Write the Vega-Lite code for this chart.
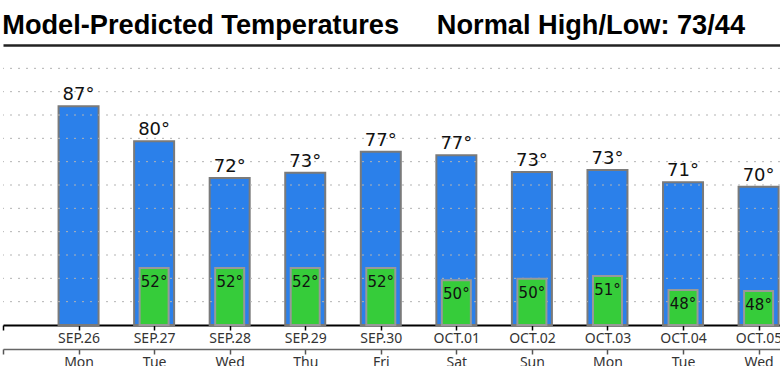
{
  "$schema": "https://vega.github.io/schema/vega-lite/v6.json",
  "autosize": "none",
  "width": 777,
  "height": 280,
  "padding": {"left": 3, "top": 45, "right": 0, "bottom": 41},
  "background": "white",
  "title": {
    "text": "Model-Predicted Temperatures\u00a0\u00a0\u00a0\u00a0\u00a0Normal High/Low: 73/44",
    "anchor": "start",
    "font": "Liberation Sans",
    "fontSize": 27.2,
    "fontWeight": "bold",
    "color": "#000000",
    "baseline": "alphabetic",
    "offset": -16
  },
  "config": {"view": {"stroke": null}},
  "datasets": {
    "temps": [
      {"date": "2022-09-26", "hi": 86.9, "hiText": "87°", "lo": null, "loText": ""},
      {"date": "2022-09-27", "hi": 79.4, "hiText": "80°", "lo": 52.2, "loText": "52°"},
      {"date": "2022-09-28", "hi": 71.5, "hiText": "72°", "lo": 52.2, "loText": "52°"},
      {"date": "2022-09-29", "hi": 72.6, "hiText": "73°", "lo": 52.2, "loText": "52°"},
      {"date": "2022-09-30", "hi": 77.1, "hiText": "77°", "lo": 52.2, "loText": "52°"},
      {"date": "2022-10-01", "hi": 76.4, "hiText": "77°", "lo": 49.6, "loText": "50°"},
      {"date": "2022-10-02", "hi": 72.8, "hiText": "73°", "lo": 49.9, "loText": "50°"},
      {"date": "2022-10-03", "hi": 73.2, "hiText": "73°", "lo": 50.5, "loText": "51°"},
      {"date": "2022-10-04", "hi": 70.6, "hiText": "71°", "lo": 47.5, "loText": "48°"},
      {"date": "2022-10-05", "hi": 69.6, "hiText": "70°", "lo": 47.3, "loText": "48°"}
    ],
    "grid": [
      {"g": 45}, {"g": 50}, {"g": 55}, {"g": 60}, {"g": 65}, {"g": 70},
      {"g": 75}, {"g": 80}, {"g": 85}, {"g": 90}, {"g": 95}
    ]
  },
  "layer": [
    {
      "data": {"name": "temps"},
      "mark": {"type": "bar", "width": 40, "fill": "#2b80ea", "stroke": "#7a7a7a", "strokeWidth": 2},
      "encoding": {
        "x": {
          "field": "date", "type": "temporal",
          "scale": {"type": "utc", "nice": false, "padding": 0, "domain": [{"year": 2022, "month": 9, "date": 25, "utc": true}, {"year": 2022, "month": 10, "date": 5, "hours": 6, "minutes": 48, "utc": true}]},
          "axis": {
            "orient": "bottom", "title": null, "grid": false,
            "tickCount": "day",
            "labelExpr": "utcdate(datum.value) == 25 ? '' : upper(utcFormat(datum.value, '%b.%d'))",
            "domainColor": "#000000", "domainWidth": 2,
            "tickColor": "#000000", "tickSize": 5, "tickWidth": 1.5,
            "labelFont": "Noto Sans", "labelFontSize": 14, "labelColor": "#333333",
            "labelPadding": 1, "labelOverlap": false, "labelFlush": false
          }
        },
        "y": {
          "field": "hi", "type": "quantitative",
          "scale": {"domain": [40, 100], "zero": false, "nice": false},
          "axis": {
            "title": null, "labels": false, "grid": false,
            "values": [40, 45, 50, 55, 60, 65, 70, 75, 80, 85, 90, 95, 100],
            "domainColor": "#000000", "domainWidth": 2,
            "tickColor": "#000000", "tickSize": 4, "tickWidth": 1
          }
        },
        "y2": {"datum": 40}
      }
    },
    {
      "data": {"name": "grid"},
      "mark": {"type": "rule", "stroke": "#b3b3b3", "strokeWidth": 1, "strokeDash": [2, 6]},
      "encoding": {
        "y": {"field": "g", "type": "quantitative", "axis": null}
      }
    },
    {
      "data": {"name": "temps"},
      "transform": [{"filter": "isValid(datum.lo)"}],
      "mark": {"type": "bar", "width": 29, "fill": "#36cc3a", "stroke": "#999999", "strokeWidth": 2},
      "encoding": {
        "x": {
          "field": "date", "type": "temporal",
          "scale": {"type": "utc", "nice": false, "padding": 0, "domain": [{"year": 2022, "month": 9, "date": 25, "utc": true}, {"year": 2022, "month": 10, "date": 5, "hours": 6, "minutes": 48, "utc": true}]},
          "axis": {
            "orient": "bottom", "title": null, "grid": false, "offset": 24,
            "tickCount": "day",
            "labelExpr": "utcdate(datum.value) == 25 ? '' : utcFormat(datum.value, '%a')",
            "domainColor": "#666666", "domainWidth": 1.5,
            "tickColor": "#555555", "tickSize": 5, "tickWidth": 1.5,
            "labelFont": "Noto Sans", "labelFontSize": 14, "labelColor": "#333333",
            "labelPadding": 1, "labelOverlap": false, "labelFlush": false
          }
        },
        "y": {"field": "lo", "type": "quantitative", "axis": null},
        "y2": {"datum": 40}
      }
    },
    {
      "data": {"name": "temps"},
      "mark": {"type": "text", "dy": -6, "baseline": "alphabetic", "align": "center", "font": "DejaVu Sans", "fontSize": 18, "color": "#111111"},
      "encoding": {
        "x": {
          "field": "date", "type": "temporal",
          "scale": {"type": "utc", "nice": false, "padding": 0, "domain": [{"year": 2022, "month": 9, "date": 25, "utc": true}, {"year": 2022, "month": 10, "date": 5, "hours": 6, "minutes": 48, "utc": true}]},
          "axis": {
            "orient": "top", "title": null, "grid": false, "labels": false, "ticks": false,
            "domainColor": "#222222", "domainWidth": 2.5
          }
        },
        "y": {"field": "hi", "type": "quantitative", "axis": null},
        "text": {"field": "hiText"}
      }
    },
    {
      "data": {"name": "temps"},
      "transform": [{"filter": "isValid(datum.lo)"}],
      "mark": {"type": "text", "dy": 19, "baseline": "alphabetic", "align": "center", "font": "DejaVu Sans", "fontSize": 15, "color": "#111111"},
      "encoding": {
        "x": {"field": "date", "type": "temporal", "scale": {"type": "utc", "nice": false, "padding": 0, "domain": [{"year": 2022, "month": 9, "date": 25, "utc": true}, {"year": 2022, "month": 10, "date": 5, "hours": 6, "minutes": 48, "utc": true}]}, "axis": null},
        "y": {"field": "lo", "type": "quantitative", "axis": null},
        "text": {"field": "loText"}
      }
    }
  ],
  "resolve": {"axis": {"x": "independent"}}
}
